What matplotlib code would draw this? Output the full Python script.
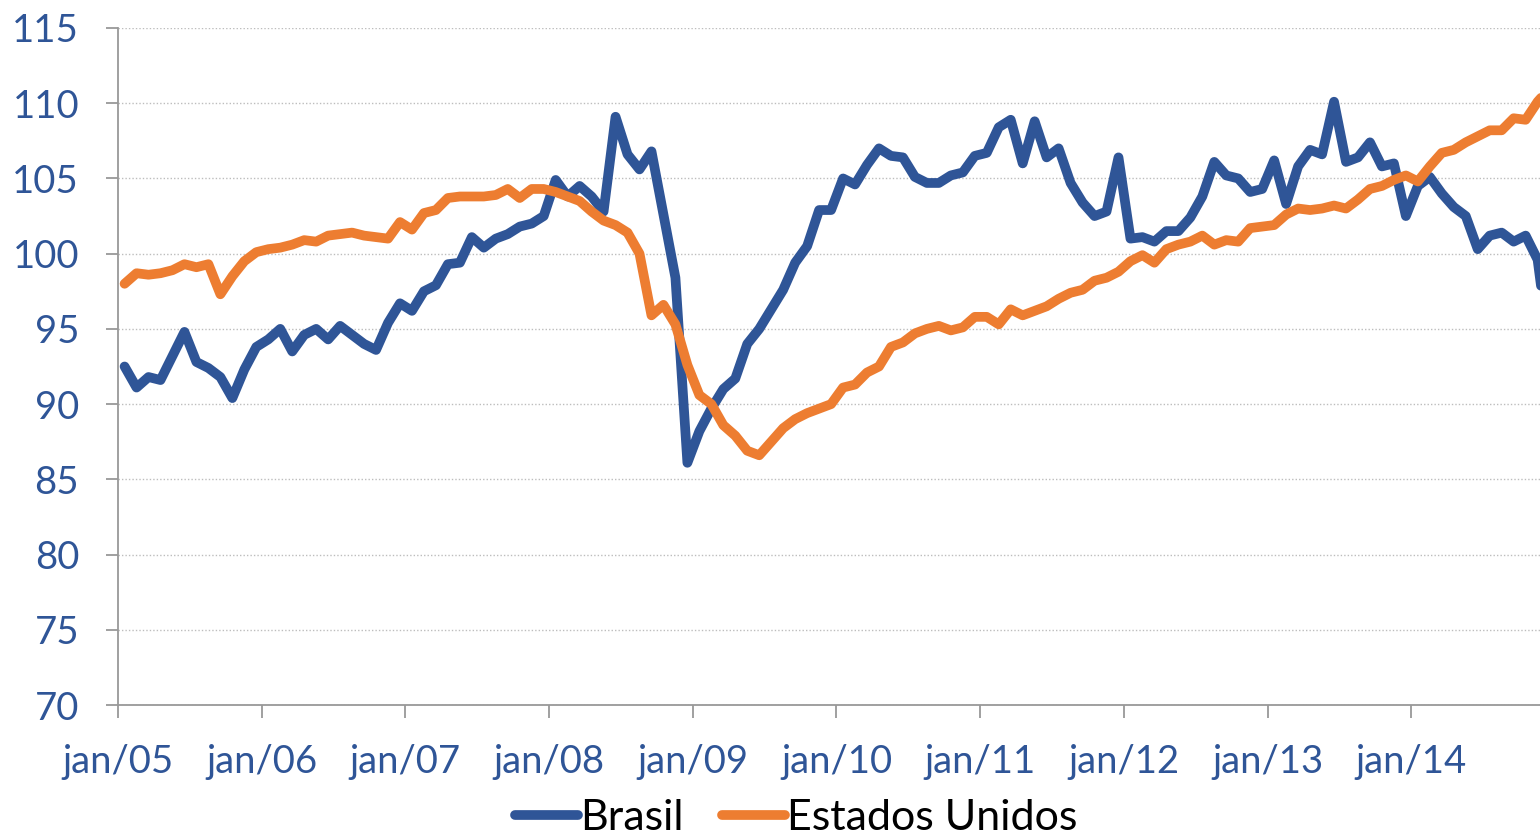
import matplotlib
matplotlib.use("Agg")
import matplotlib.pyplot as plt
import numpy as np

# monthly index, jan/05 .. dec/14
brasil = [92.5, 91.1, 91.8, 91.6, 93.2, 94.8, 92.8, 92.4, 91.8, 90.4, 92.3, 93.8,
          94.3, 95.0, 93.5, 94.6, 95.0, 94.3, 95.2, 94.6, 94.0, 93.6, 95.4, 96.7,
          96.2, 97.5, 97.9, 99.3, 99.4, 101.1, 100.4, 101.0, 101.3, 101.8, 102.0, 102.5,
          104.9, 103.8, 104.5, 103.8, 102.8, 109.1, 106.6, 105.6, 106.8, 102.6, 98.4, 86.1,
          88.2, 89.7, 91.0, 91.7, 94.0, 95.0, 96.3, 97.6, 99.4, 100.5, 102.9, 102.9,
          105.0, 104.6, 105.9, 107.0, 106.5, 106.4, 105.1, 104.7, 104.7, 105.2, 105.4, 106.5,
          106.7, 108.4, 108.9, 106.0, 108.8, 106.4, 107.0, 104.7, 103.4, 102.5, 102.8, 106.4,
          101.0, 101.1, 100.8, 101.5, 101.5, 102.4, 103.8, 106.1, 105.2, 105.0, 104.1, 104.3,
          106.2, 103.3, 105.8, 106.9, 106.6, 110.1, 106.1, 106.4, 107.4, 105.8, 106.0, 102.5,
          104.5, 105.1, 104.0, 103.1, 102.5, 100.3, 101.2, 101.4, 100.8, 101.2, 99.6, 93.5]

eua = [98.0, 98.7, 98.6, 98.7, 98.9, 99.3, 99.1, 99.3, 97.3, 98.5, 99.5, 100.1,
       100.3, 100.4, 100.6, 100.9, 100.8, 101.2, 101.3, 101.4, 101.2, 101.1, 101.0, 102.1,
       101.6, 102.7, 102.9, 103.7, 103.8, 103.8, 103.8, 103.9, 104.3, 103.7, 104.3, 104.3,
       104.1, 103.8, 103.5, 102.8, 102.2, 101.9, 101.4, 100.0, 95.9, 96.6, 95.3, 92.6,
       90.6, 90.0, 88.6, 87.9, 86.9, 86.6, 87.5, 88.4, 89.0, 89.4, 89.7, 90.0,
       91.1, 91.3, 92.1, 92.5, 93.8, 94.1, 94.7, 95.0, 95.2, 94.9, 95.1, 95.8,
       95.8, 95.3, 96.3, 95.9, 96.2, 96.5, 97.0, 97.4, 97.6, 98.2, 98.4, 98.8,
       99.5, 99.9, 99.4, 100.3, 100.6, 100.8, 101.2, 100.6, 100.9, 100.8, 101.7, 101.8,
       101.9, 102.6, 103.0, 102.9, 103.0, 103.2, 103.0, 103.6, 104.3, 104.5, 104.9, 105.2,
       104.8, 105.8, 106.7, 106.9, 107.4, 107.8, 108.2, 108.2, 109.0, 108.9, 110.1, 111.0]

tick_labels = ["jan/05", "jan/06", "jan/07", "jan/08", "jan/09",
               "jan/10", "jan/11", "jan/12", "jan/13", "jan/14"]

azul = "#2F5597"
laranja = "#ED7D31"

plt.rcParams["font.family"] = ["Lato", "DejaVu Sans"]

fig = plt.figure(figsize=(15.4, 8.39), dpi=100)
ax = fig.add_axes([118 / 1540, 134 / 839, 1422 / 1540, 677 / 839])

x = np.arange(len(brasil)) + 0.55
ax.plot(x, brasil, color=azul, lw=7, solid_joinstyle="round", solid_capstyle="round", label="Brasil")
ax.plot(x, eua, color=laranja, lw=7, solid_joinstyle="round", solid_capstyle="round", label="Estados Unidos")

ax.set_xlim(0, 118.75)
ax.set_ylim(70, 115)
ax.set_yticks(np.arange(70, 116, 5))
ax.set_xticks(np.arange(0, 120, 12))
ax.set_xticklabels(tick_labels)

ax.grid(axis="y", color="#BDBDBD", linestyle=(0, (1, 1.5)), lw=1)
ax.set_axisbelow(True)

for s in ["top", "right"]:
    ax.spines[s].set_visible(False)
for s in ["left", "bottom"]:
    ax.spines[s].set_color("#999999")
    ax.spines[s].set_linewidth(1.3)

ax.tick_params(axis="both", colors="#999999", labelcolor=azul, labelsize=27.5, length=9, width=1.3)
ax.tick_params(axis="y", pad=19)
ax.tick_params(axis="x", pad=19)

fig.legend(loc="center", bbox_to_anchor=(0.517, 0.025), ncol=2, frameon=False,
           fontsize=31, handlelength=1.45, handletextpad=0.05, columnspacing=0.9)

fig.savefig("out.png", dpi=100)
